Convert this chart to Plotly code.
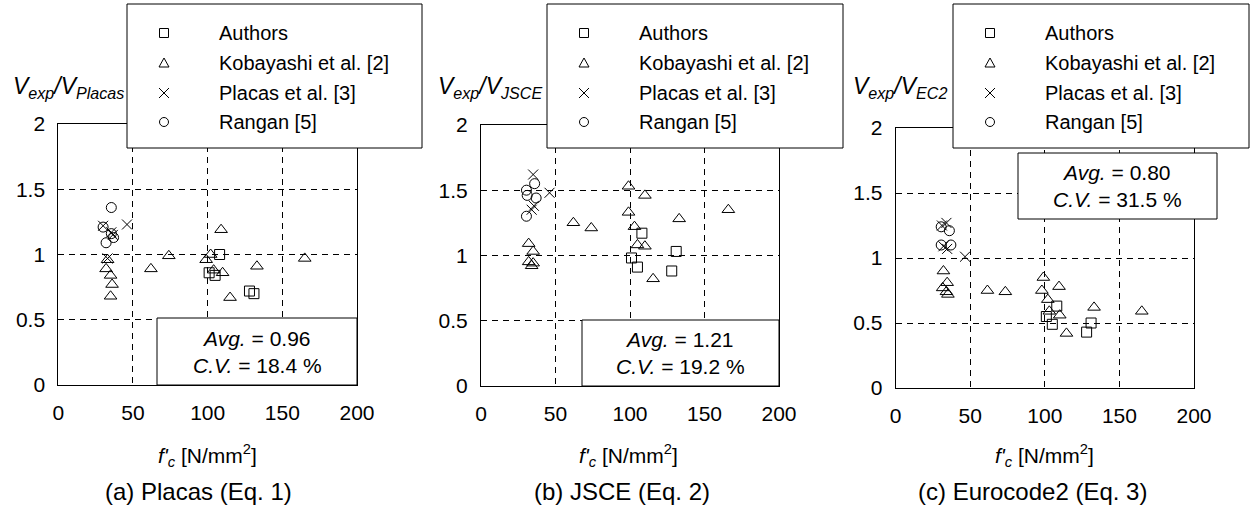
import plotly.graph_objects as go

W, H = 1250, 510

# ---------------- data ----------------
series_names = ["Authors", "Kobayashi et al. [2]", "Placas et al. [3]", "Rangan [5]"]

authors_fc = [101, 105, 108, 128, 131]
authors_placas = [0.86, 0.84, 1.00, 0.72, 0.70]
authors_jsce = [0.98, 0.91, 1.17, 0.88, 1.03]
authors_ec2 = [0.55, 0.49, 0.63, 0.43, 0.50]

kob_fc_a = [32, 35, 36, 35, 33, 62, 74, 99, 102, 109, 104, 110, 115, 133, 165]
kob_placas = [0.89, 0.84, 0.77, 0.68, 0.96, 0.89, 0.99, 0.96, 1.00, 1.19, 0.88, 0.86, 0.67, 0.91, 0.97]
kob_fc_b = [32, 35, 32, 35, 34, 62, 74, 99, 99, 110, 103, 105, 110, 115.5, 133, 166]
kob_jsce = [1.09, 1.03, 0.95, 0.94, 0.92, 1.25, 1.21, 1.53, 1.33, 1.46, 1.22, 1.08, 1.07, 0.82, 1.28, 1.35]
kob_fc_c = [32, 34.5, 31.5, 34, 35, 61.5, 73.5, 99, 98, 102, 109.5, 103, 110, 114.5, 133, 165]
kob_ec2 = [0.90, 0.81, 0.77, 0.74, 0.72, 0.75, 0.74, 0.85, 0.75, 0.68, 0.78, 0.59, 0.56, 0.42, 0.62, 0.59]

placas_fc_a = [30, 35.5, 36.5, 46, 33]
placas_placas = [1.22, 1.17, 1.15, 1.23, 0.97]
placas_fc_b = [35, 46, 34, 35.5]
placas_jsce = [1.62, 1.48, 1.35, 1.38]
placas_fc_c = [31, 34, 32, 34.5, 46.5]
placas_ec2 = [1.25, 1.27, 1.09, 1.07, 1.01]

rangan_fc_a = [35.5, 30, 32, 37, 35.5]
rangan_placas = [1.36, 1.21, 1.09, 1.13, 1.16]
rangan_fc_b = [36, 30.5, 31, 37, 30.5]
rangan_jsce = [1.55, 1.50, 1.46, 1.44, 1.30]
rangan_fc_c = [30.5, 36, 30.5, 37]
rangan_ec2 = [1.24, 1.21, 1.10, 1.10]

avg_values = [0.96, 1.21, 0.80]
cv_values = [18.4, 19.2, 31.5]
captions = ["(a) Placas (Eq. 1)", "(b) JSCE (Eq. 2)", "(c) Eurocode2 (Eq. 3)"]
y_subscripts = ["Placas", "JSCE", "EC2"]
x_ticks = [0, 50, 100, 150, 200]
y_ticks = [0, 0.5, 1, 1.5, 2]

panel_data = [
    [(authors_fc, authors_placas), (kob_fc_a, kob_placas), (placas_fc_a, placas_placas), (rangan_fc_a, rangan_placas)],
    [(authors_fc, authors_jsce), (kob_fc_b, kob_jsce), (placas_fc_b, placas_jsce), (rangan_fc_b, rangan_jsce)],
    [(authors_fc, authors_ec2), (kob_fc_c, kob_ec2), (placas_fc_c, placas_ec2), (rangan_fc_c, rangan_ec2)],
]

# ---------------- layout geometry (pixels) ----------------
panels = [
    dict(px0=58.3, px1=357, py0=124, py1=385, leg=(127, 4, 422, 148), stats=(157, 318, 357, 385),
         ytx=13, capx=198, xtx=207),
    dict(px0=481, px1=779, py0=125, py1=385.7, leg=(547, 4, 843, 148), stats=(582, 320, 779, 386),
         ytx=438, capx=622, xtx=628),
    dict(px0=895.7, px1=1194, py0=128, py1=388, leg=(953, 4, 1249, 148), stats=(1018, 153, 1217, 219),
         ytx=853, capx=1032, xtx=1044),
]

def fx(p):
    return p / W

def fy(p):
    return 1 - p / H

FONT = "Liberation Sans, Arial, sans-serif"
symbols = ["square-open", "triangle-up-open", "x-thin-open", "circle-open"]
sizes = [10, 11, 10, 10]

fig = go.Figure()
shapes = []
annotations = []

for i, pn in enumerate(panels):
    k = "" if i == 0 else str(i + 1)
    for j, (xs, ys) in enumerate(panel_data[i]):
        fig.add_trace(go.Scatter(
            x=xs, y=ys, mode="markers", name=series_names[j], showlegend=False,
            xaxis="x" + k, yaxis="y" + k,
            marker=dict(symbol=symbols[j], size=sizes[j], color="black",
                        line=dict(color="black", width=1)),
        ))
    axcommon = dict(showline=True, mirror=True, linecolor="black", linewidth=1,
                    showgrid=True, gridcolor="black", gridwidth=1, griddash="6px,5px",
                    zeroline=False, ticks="", automargin=False,
                    tickfont=dict(family=FONT, size=21, color="black"))
    fig.update_layout(**{
        "xaxis" + k: dict(domain=[fx(pn["px0"]), fx(pn["px1"])], range=[0, 200],
                          tickvals=x_ticks, anchor="y" + k, ticklabelstandoff=9, **axcommon),
        "yaxis" + k: dict(domain=[fy(pn["py1"]), fy(pn["py0"])], range=[0, 2],
                          tickvals=y_ticks, ticktext=[f"{v:g}" for v in y_ticks],
                          anchor="x" + k, ticklabelstandoff=8, **axcommon),
    })

    # stats box
    sx0, sy0, sx1, sy1 = pn["stats"]
    shapes.append(dict(type="rect", xref="paper", yref="paper", layer="above",
                       x0=fx(sx0), x1=fx(sx1), y0=fy(sy1), y1=fy(sy0),
                       fillcolor="white", line=dict(color="black", width=1)))
    annotations.append(dict(xref="paper", yref="paper", x=fx((sx0 + sx1) / 2), y=fy((sy0 + sy1) / 2),
                            xanchor="center", yanchor="middle", showarrow=False, align="center",
                            text=f"<i>Avg.</i> = {avg_values[i]:.2f}<br><i>C.V.</i> = {cv_values[i]:.1f} %",
                            font=dict(family=FONT, size=21, color="black")))

    # legend box
    lx0, ly0, lx1, ly1 = pn["leg"]
    shapes.append(dict(type="rect", xref="paper", yref="paper", layer="above",
                       x0=fx(lx0), x1=fx(lx1), y0=fy(ly1), y1=fy(ly0),
                       fillcolor="white", line=dict(color="black", width=1)))
    rows = [33, 63, 93, 122]
    mx = lx0 + 37
    r = 4.5
    shapes.append(dict(type="rect", xref="paper", yref="paper", layer="above",
                       x0=fx(mx - r), x1=fx(mx + r), y0=fy(rows[0] + r), y1=fy(rows[0] - r),
                       line=dict(color="black", width=1)))
    ty = rows[1]
    shapes.append(dict(type="path", xref="paper", yref="paper", layer="above",
                       path=f"M {fx(mx-5)} {fy(ty+4)} L {fx(mx+5)} {fy(ty+4)} L {fx(mx)} {fy(ty-5)} Z",
                       line=dict(color="black", width=1)))
    xy = rows[2]
    shapes.append(dict(type="path", xref="paper", yref="paper", layer="above",
                       path=(f"M {fx(mx-5)} {fy(xy-5)} L {fx(mx+5)} {fy(xy+5)} "
                             f"M {fx(mx-5)} {fy(xy+5)} L {fx(mx+5)} {fy(xy-5)}"),
                       line=dict(color="black", width=1)))
    cy = rows[3]
    shapes.append(dict(type="circle", xref="paper", yref="paper", layer="above",
                       x0=fx(mx - 4.5), x1=fx(mx + 4.5), y0=fy(cy + 4.5), y1=fy(cy - 4.5),
                       line=dict(color="black", width=1)))
    for j, ry in enumerate(rows):
        annotations.append(dict(xref="paper", yref="paper", x=fx(lx0 + 90), y=fy(ry),
                                xanchor="left", yanchor="middle", showarrow=False,
                                text=series_names[j], font=dict(family=FONT, size=20, color="black")))

    # y title
    annotations.append(dict(xref="paper", yref="paper", x=fx(pn["ytx"] - 2), y=fy(104),
                            xanchor="left", yanchor="bottom", showarrow=False,
                            text=f"<i>V</i><sub><i>exp</i></sub><i>/V</i><sub><i>{y_subscripts[i]}</i></sub>",
                            font=dict(family=FONT, size=23, color="black")))
    # x title
    annotations.append(dict(xref="paper", yref="paper", x=fx(pn["xtx"]), y=fy(455),
                            xanchor="center", yanchor="middle", showarrow=False,
                            text="<i>f'</i><sub><i>c</i></sub> [N/mm<sup>2</sup>]",
                            font=dict(family=FONT, size=21, color="black")))
    # caption
    annotations.append(dict(xref="paper", yref="paper", x=fx(pn["capx"]), y=fy(491),
                            xanchor="center", yanchor="middle", showarrow=False,
                            text=captions[i], font=dict(family=FONT, size=24, color="black")))

fig.update_layout(width=W, height=H, margin=dict(l=0, r=0, t=0, b=0, autoexpand=False),
                  paper_bgcolor="white", plot_bgcolor="white", showlegend=False,
                  shapes=shapes, annotations=annotations,
                  font=dict(family=FONT, color="black"))

fig.write_html("out.html", post_script="document.body.style.margin='0';",
               config={"displayModeBar": False})
